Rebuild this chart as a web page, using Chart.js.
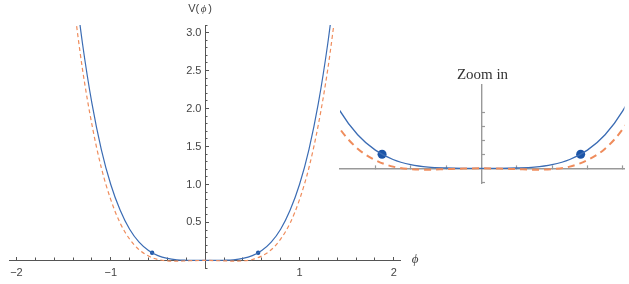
<!DOCTYPE html>
<html>
<head>
<meta charset="utf-8">
<script src="https://cdn.jsdelivr.net/npm/chart.js@4.4.1/dist/chart.umd.min.js"></script>
<style>
  html, body { margin: 0; padding: 0; background: #fff; }
  #wrap { position: relative; width: 629px; height: 284px; overflow: hidden; }
  #mainChart { position: absolute; left: 0; top: 0; }
  #zoomChart { position: absolute; left: 335px; top: 60px; }
</style>
</head>
<body>
<div id="wrap">
  <canvas id="mainChart" width="430" height="284"></canvas>
  <canvas id="zoomChart" width="294" height="130"></canvas>
</div>
<script>
// values
const phi = [-1.4, -1.3, -1.2, -1.1, -1.0, -0.9, -0.8, -0.7, -0.6, -0.5, -0.4, -0.3, -0.2, -0.1, 0,
             0.1, 0.2, 0.3, 0.4, 0.5, 0.6, 0.7, 0.8, 0.9, 1.0, 1.1, 1.2, 1.3, 1.4];
const vSolid = [3.84, 2.86, 2.07, 1.46, 1.0, 0.66, 0.41, 0.24, 0.13, 0.063, 0.026, 0.008, 0.002, 0.0001, 0,
                0.0001, 0.002, 0.008, 0.026, 0.063, 0.13, 0.24, 0.41, 0.66, 1.0, 1.46, 2.07, 2.86, 3.84];
const vDashed = [3.45, 2.52, 1.79, 1.22, 0.8, 0.49, 0.28, 0.14, 0.058, 0.012, -0.006, -0.01, -0.006, -0.002, 0,
                 -0.002, -0.006, -0.01, -0.006, 0.012, 0.058, 0.14, 0.28, 0.49, 0.8, 1.22, 1.79, 2.52, 3.45];
const dotPhi = [-0.562, 0.562];
const dotV = [0.1, 0.1];

// tick labels / tick marks
const xMajorTicks = [-2, -1, 1, 2];
const xMinorTicks = [-2, -1.8, -1.6, -1.4, -1.2, -1, -0.8, -0.6, -0.4, -0.2, 0.2, 0.4, 0.6, 0.8, 1, 1.2, 1.4, 1.6, 1.8, 2];
const yMajorTicks = [0.5, 1, 1.5, 2, 2.5, 3];
const yMinorTicks = [-0.1, 0.1, 0.2, 0.3, 0.4, 0.6, 0.7, 0.8, 0.9, 1.1, 1.2, 1.3, 1.4, 1.6, 1.7, 1.8, 1.9,
                     2.1, 2.2, 2.3, 2.4, 2.6, 2.7, 2.8, 2.9, 3.1];
const zoomXTicks = [-0.6, -0.4, -0.2, 0.2, 0.4, 0.6, 0.8];
const zoomYTicks = [-0.1, 0.1, 0.2, 0.3, 0.4];

const blue = '#3b6cb4';
const orange = '#ef8c5c';
const dotBlue = '#1c55a8';

function pts(xs, ys) {
  return xs.map((x, i) => ({ x: x, y: ys[i] }));
}

function fixTicks(list) {
  return function (scale) {
    scale.ticks = list.map(v => ({ value: v }));
  };
}

function axis(extra) {
  return Object.assign({
    type: 'linear',
    grid: { drawOnChartArea: false, color: '#555', tickLength: -4, tickWidth: 1 },
    border: { display: false },
    ticks: { display: false }
  }, extra);
}

const axisText = {
  id: 'axisText',
  afterDraw(chart) {
    const ctx = chart.ctx;
    const xs = chart.scales.x, ys = chart.scales.y;
    ctx.save();
    ctx.fillStyle = '#444';
    ctx.textBaseline = 'middle';
    ctx.font = '11px "Liberation Sans"';
    const x0 = xs.getPixelForValue(0) - 3;
    ctx.textAlign = 'right';
    ctx.fillText('V(', x0 - 3, 9);
    ctx.textAlign = 'left';
    ctx.fillText(')', x0 + 6, 9);
    ctx.font = 'italic 11px "Liberation Serif"';
    ctx.textAlign = 'center';
    ctx.fillText('\u03d5', x0 + 1.5, 9);
    ctx.font = 'italic 13px "Liberation Serif"';
    ctx.fillText('\u03d5', xs.right + 15, ys.getPixelForValue(0) - 1);
    ctx.restore();
  }
};

new Chart(document.getElementById('mainChart'), {
  type: 'line',
  data: {
    datasets: [
      { data: pts(phi, vDashed), borderColor: orange, borderWidth: 1.2, borderDash: [4, 3],
        pointRadius: 0, cubicInterpolationMode: 'monotone' },
      { data: pts(phi, vSolid), borderColor: blue, borderWidth: 1.2,
        pointRadius: 0, cubicInterpolationMode: 'monotone' },
      { data: pts(dotPhi, dotV), showLine: false, pointRadius: 2.2,
        pointBackgroundColor: dotBlue, pointBorderWidth: 0 }
    ]
  },
  options: {
    responsive: false,
    animation: false,
    layout: { padding: { left: 7, right: 30, top: 25, bottom: 16 } },
    plugins: { legend: { display: false }, tooltip: { enabled: false } },
    scales: {
      x: axis({
        min: -2.075, max: 2.065, position: { y: 0 },
        afterBuildTicks: fixTicks(xMajorTicks),
        border: { display: true, color: '#555', width: 1 },
        ticks: { display: true, padding: 10, color: '#444', font: { family: 'Liberation Sans', size: 11 },
                 callback: v => (v < 0 ? '\u2212' : '') + Math.abs(v) }
      }),
      xm: axis({
        min: -2.075, max: 2.065, position: { y: 0 },
        afterBuildTicks: fixTicks(xMinorTicks),
        grid: { drawOnChartArea: false, color: '#555', tickLength: -2.5, tickWidth: 1 }
      }),
      y: axis({
        min: -0.1, max: 3.1, position: { x: 0 },
        afterBuildTicks: fixTicks(yMajorTicks),
        border: { display: true, color: '#555', width: 1 },
        // labels of a value-positioned y axis sit flush on the axis, so pad them with a small space
        ticks: { display: true, padding: 8, color: '#444', font: { family: 'Liberation Sans', size: 11 },
                 callback: v => v.toFixed(1) + '\u2004' }
      }),
      ym: axis({
        min: -0.1, max: 3.1, position: { x: 0 },
        afterBuildTicks: fixTicks(yMinorTicks),
        grid: { drawOnChartArea: false, color: '#555', tickLength: -2.5, tickWidth: 1 }
      })
    }
  },
  plugins: [axisText]
});

new Chart(document.getElementById('zoomChart'), {
  type: 'line',
  data: {
    datasets: [
      { data: pts(phi, vDashed), borderColor: orange, borderWidth: 2, borderDash: [7, 5],
        pointRadius: 0, cubicInterpolationMode: 'monotone' },
      { data: pts(phi, vSolid), borderColor: blue, borderWidth: 1.3,
        pointRadius: 0, cubicInterpolationMode: 'monotone' },
      { data: pts(dotPhi, dotV), showLine: false, pointRadius: 4.5,
        pointBackgroundColor: dotBlue, pointBorderWidth: 0 }
    ]
  },
  options: {
    responsive: false,
    animation: false,
    layout: { padding: { left: 5, right: 4, top: 0, bottom: 7 } },
    plugins: {
      legend: { display: false },
      tooltip: { enabled: false },
      title: { display: true, text: 'Zoom in', color: '#333',
               font: { family: 'Liberation Serif', size: 15, weight: 'normal' },
               padding: { top: 6, bottom: 1 } }
    },
    scales: {
      x: axis({
        min: -0.8, max: 0.81, position: { y: 0 },
        afterBuildTicks: fixTicks(zoomXTicks),
        grid: { drawOnChartArea: false, color: '#999', tickLength: -4, tickWidth: 1.2 },
        border: { display: true, color: '#999', width: 1.4 }
      }),
      y: axis({
        min: -0.105, max: 0.595, position: { x: 0 },
        afterBuildTicks: fixTicks(zoomYTicks),
        grid: { drawOnChartArea: false, color: '#999', tickLength: -4, tickWidth: 1.2 },
        border: { display: true, color: '#999', width: 1.4 }
      })
    }
  }
});
</script>
</body>
</html>
